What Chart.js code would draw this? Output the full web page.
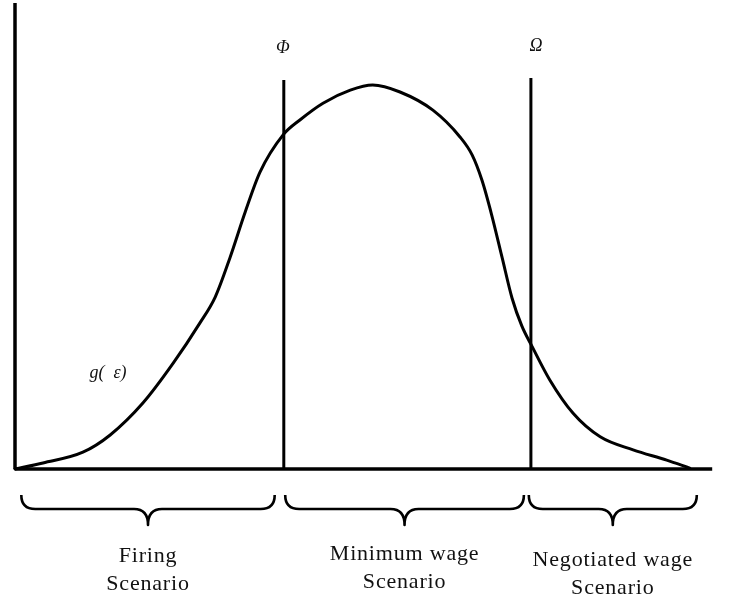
<!DOCTYPE html>
<html>
<head>
<meta charset="utf-8">
<script src="https://cdn.jsdelivr.net/npm/chart.js@4.4.1/dist/chart.umd.min.js"></script>
<style>
  html, body { margin: 0; padding: 0; background: #ffffff; }
  #c { display: block; }
</style>
</head>
<body>
<canvas id="c" width="731" height="603"></canvas>
<script>
// ---- data ----
const curveX = [0, 4.0, 9.7, 13.6, 18.3, 22.6, 26.4, 28.6, 30.7, 32.9, 35.0, 38.3, 40.7, 44.0, 47.9, 51.1, 55.0, 59.7, 63.6, 65.3, 66.7, 68.1, 69.6, 71.0, 72.4, 73.9, 76.4, 79.7, 83.6, 88.3, 93.1, 96.4];
const curveY = [0, 1.3, 3.6, 7.3, 14.2, 22.7, 31.3, 36.9, 45.3, 55.2, 63.7, 71.7, 74.9, 78.5, 81.3, 82.4, 80.9, 77.0, 71.2, 67.4, 62.0, 54.5, 45.3, 36.7, 30.7, 26.2, 19.1, 12.0, 6.9, 4.1, 1.9, 0.2];
const curveLabel = 'g(  ε)';
const curveLabelAt = [13.0, 19.5];

const thresholdX = [38.4, 73.7];
const thresholdTop = [83.5, 83.9];
const thresholdLabels = ['Φ', 'Ω'];

const axisXMax = 99.6;
const axisYMax = 100;

const braceRanges = [[0.9, 37.1], [38.6, 72.7], [73.4, 97.4]];
const scenarioLabels = [['Firing', 'Scenario'], ['Minimum wage', 'Scenario'], ['Negotiated wage', 'Scenario']];

// ---- build datasets ----
const curveData = curveX.map((x, i) => ({ x: x, y: curveY[i] }));
const base = { borderColor: '#000', pointRadius: 0, showLine: true, clip: false, fill: false };
const datasets = [
  Object.assign({}, base, { label: 'y-axis', data: [{ x: 0, y: 0 }, { x: 0, y: axisYMax }], borderWidth: 3.5, tension: 0 }),
  Object.assign({}, base, { label: 'x-axis', data: [{ x: 0, y: 0 }, { x: axisXMax, y: 0 }], borderWidth: 3.5, tension: 0 }),
  Object.assign({}, base, { label: 'g', data: curveData, borderWidth: 3, cubicInterpolationMode: 'monotone', borderJoinStyle: 'round', borderCapStyle: 'round' })
];
thresholdX.forEach((tx, i) => {
  datasets.push(Object.assign({}, base, { label: thresholdLabels[i], data: [{ x: tx, y: 0 }, { x: tx, y: thresholdTop[i] }], borderWidth: 3, tension: 0 }));
});

// ---- annotations plugin (labels + braces) ----
const annot = {
  id: 'annot',
  afterDatasetsDraw(chart) {
    const ctx = chart.ctx;
    const xs = chart.scales.x, ys = chart.scales.y;
    ctx.save();
    ctx.fillStyle = '#111';
    ctx.textAlign = 'center';
    ctx.textBaseline = 'alphabetic';

    // threshold labels
    ctx.font = 'italic 18px "Liberation Serif", "DejaVu Serif", serif';
    thresholdX.forEach((tx, i) => {
      const px = xs.getPixelForValue(tx) + (i === 0 ? -1 : 5);
      const py = ys.getPixelForValue(thresholdTop[i]) - 27;
      ctx.fillText(thresholdLabels[i], px, py);
    });

    // curve label
    ctx.font = 'italic 18px "Liberation Serif", "DejaVu Serif", serif';
    ctx.fillText(curveLabel, xs.getPixelForValue(curveLabelAt[0]) + 2, ys.getPixelForValue(curveLabelAt[1]));

    // braces
    const y0 = ys.getPixelForValue(0);
    const top = y0 + 26, bar = y0 + 40, tip = y0 + 56, r = 14;
    ctx.strokeStyle = '#000';
    ctx.lineWidth = 2.6;
    ctx.lineJoin = 'round';
    braceRanges.forEach(([a, b]) => {
      const x1 = xs.getPixelForValue(a), x2 = xs.getPixelForValue(b), m = (x1 + x2) / 2;
      ctx.beginPath();
      ctx.moveTo(x1, top);
      ctx.quadraticCurveTo(x1, bar, x1 + r, bar);
      ctx.lineTo(m - r, bar);
      ctx.quadraticCurveTo(m, bar, m, tip);
      ctx.quadraticCurveTo(m, bar, m + r, bar);
      ctx.lineTo(x2 - r, bar);
      ctx.quadraticCurveTo(x2, bar, x2, top);
      ctx.stroke();
    });

    // scenario labels
    ctx.font = '22px "Liberation Serif", "Times New Roman", serif';
    try { ctx.letterSpacing = '0.8px'; } catch (e) {}
    const baseOffsets = [93, 91, 97];
    braceRanges.forEach(([a, b], i) => {
      const m = (xs.getPixelForValue(a) + xs.getPixelForValue(b)) / 2;
      scenarioLabels[i].forEach((line, j) => {
        ctx.fillText(line, m, y0 + baseOffsets[i] + j * 28);
      });
    });
    ctx.restore();
  }
};

new Chart(document.getElementById('c'), {
  type: 'scatter',
  data: { datasets: datasets },
  options: {
    responsive: false,
    animation: false,
    devicePixelRatio: 1,
    layout: { padding: { left: 15, right: 16, top: 3, bottom: 134 } },
    plugins: { legend: { display: false }, tooltip: { enabled: false } },
    scales: {
      x: { type: 'linear', min: 0, max: 100, display: false },
      y: { type: 'linear', min: 0, max: 100, display: false }
    }
  },
  plugins: [annot]
});
</script>
</body>
</html>
